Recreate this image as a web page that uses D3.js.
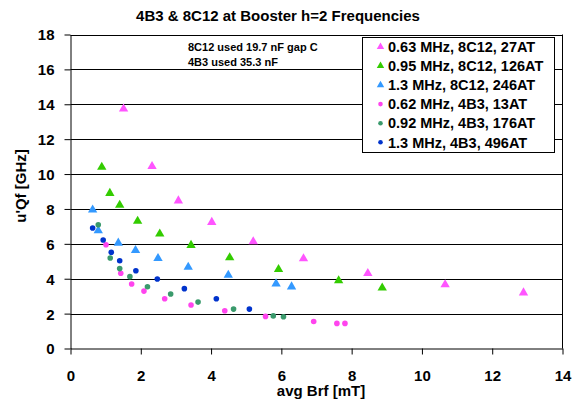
<!DOCTYPE html>
<html>
<head>
<meta charset="utf-8">
<script src="https://cdnjs.cloudflare.com/ajax/libs/d3/7.8.5/d3.min.js"></script>
<style>
  body { margin: 0; background: #fff; }
  svg { display: block; font-family: "Liberation Sans", Arial, sans-serif; }
</style>
</head>
<body>
<div id="chart"></div>
<script>
// 4B3 & 8C12 u'Qf vs avg Brf
const xTicks = [0, 2, 4, 6, 8, 10, 12, 14];
const yTicks = [0, 2, 4, 6, 8, 10, 12, 14, 16, 18];

const s063_8c12 = [[1.51, 13.74], [2.32, 10.44], [3.07, 8.47], [4.02, 7.24], [5.2, 6.13],
  [6.63, 5.15], [8.46, 4.31], [10.66, 3.66], [12.89, 3.2]];
const s095_8c12 = [[0.89, 10.4], [1.12, 8.9], [1.40, 8.22], [1.91, 7.3], [2.54, 6.57],
  [3.43, 5.92], [4.53, 5.21], [5.92, 4.54], [7.63, 3.89], [8.87, 3.48]];
const s13_8c12 = [[0.63, 7.95], [0.79, 6.76], [1.36, 6.05], [1.85, 5.63], [2.49, 5.17],
  [3.35, 4.67], [4.49, 4.21], [5.85, 3.71], [6.29, 3.54]];
const s062_4b3 = [[1.01, 5.95], [1.43, 4.31], [1.74, 3.70], [2.09, 3.29], [2.68, 2.85],
  [3.43, 2.49], [4.39, 2.16], [5.55, 1.84], [6.92, 1.55], [7.58, 1.44], [7.81, 1.44]];
const s092_4b3 = [[0.79, 7.09], [1.13, 5.19], [1.40, 4.58], [1.69, 4.12], [2.19, 3.54],
  [2.85, 3.12], [3.63, 2.66], [4.64, 2.26], [5.77, 1.87], [6.06, 1.82]];
const s13_4b3 = [[0.63, 6.91], [0.93, 6.22], [1.16, 5.52], [1.40, 5.03], [1.86, 4.46],
  [2.47, 3.98], [3.24, 3.43], [4.15, 2.85], [5.09, 2.26]];

const seriesNames = ['0.63 MHz, 8C12, 27AT', '0.95 MHz, 8C12, 126AT', '1.3 MHz, 8C12, 246AT',
  '0.62 MHz, 4B3, 13AT', '0.92 MHz, 4B3, 176AT', '1.3 MHz, 4B3, 496AT'];
const seriesData = [s063_8c12, s095_8c12, s13_8c12, s062_4b3, s092_4b3, s13_4b3];
const seriesColors = ['#ff55ff', '#33cc00', '#3399ff', '#ff44ee', '#3a9a6c', '#0033cc'];
const seriesShapes = ['triangle', 'triangle', 'triangle', 'circle', 'circle', 'circle'];

const notes = ['8C12 used 19.7 nF gap C', '4B3 used 35.3 nF'];

const width = 576, height = 408;
const plotLeft = 70.5, plotRight = 562.5, plotTop = 34.5, plotBottom = 348.5;

const svg = d3.select('#chart').append('svg')
  .attr('width', width)
  .attr('height', height);

const x = d3.scaleLinear().domain([0, 14]).range([plotLeft, plotRight]);
const y = d3.scaleLinear().domain([0, 18]).range([plotBottom, plotTop]);

// gridlines
svg.append('g')
  .selectAll('line')
  .data(yTicks.slice(1))
  .join('line')
  .attr('x1', plotLeft).attr('x2', plotRight)
  .attr('y1', d => Math.round(y(d)) + 0.5).attr('y2', d => Math.round(y(d)) + 0.5)
  .attr('stroke', '#000').attr('stroke-width', 1);

// right frame
svg.append('line')
  .attr('x1', plotRight).attr('x2', plotRight).attr('y1', plotTop).attr('y2', plotBottom)
  .attr('stroke', '#000');

// axes
const xAxis = svg.append('g')
  .attr('transform', `translate(0,${plotBottom})`)
  .call(d3.axisBottom(x).tickValues(xTicks).tickSize(6).tickPadding(15.5).tickSizeOuter(0));
const yAxis = svg.append('g')
  .attr('transform', `translate(${plotLeft},0)`)
  .call(d3.axisLeft(y).tickValues(yTicks).tickSize(6).tickPadding(10).tickSizeOuter(0));

[xAxis, yAxis].forEach(a => {
  a.select('.domain').attr('stroke', '#000');
  a.selectAll('.tick line').attr('stroke', '#000');
  a.selectAll('.tick text')
    .attr('fill', '#000')
    .style('font-size', '15px')
    .style('font-weight', 'bold')
    .style('font-family', '"Liberation Sans", Arial, sans-serif');
});
yAxis.selectAll('.tick text').attr('dy', '0.36em');

// marks
const triangle = d3.symbol().type(d3.symbolTriangle).size(38);
seriesData.forEach((data, i) => {
  const g = svg.append('g').attr('fill', seriesColors[i]);
  if (seriesShapes[i] === 'triangle') {
    g.selectAll('path').data(data).join('path')
      .attr('d', triangle)
      .attr('transform', d => `translate(${x(d[0])},${y(d[1])})`);
  } else {
    g.selectAll('circle').data(data).join('circle')
      .attr('cx', d => x(d[0])).attr('cy', d => y(d[1])).attr('r', 2.8);
  }
});

// annotation
svg.append('g')
  .selectAll('text')
  .data(notes)
  .join('text')
  .attr('x', 188)
  .attr('y', (d, i) => 51 + i * 14.8)
  .style('font-size', '11px')
  .style('font-weight', 'bold')
  .text(d => d);

// legend
const lg = svg.append('g');
lg.append('rect')
  .attr('x', 362.5).attr('y', 37.5).attr('width', 192).attr('height', 115)
  .attr('fill', '#fff').attr('stroke', '#000');
seriesNames.forEach((name, i) => {
  const cy = 46.8 + i * 19.1;
  if (seriesShapes[i] === 'triangle') {
    lg.append('path')
      .attr('d', d3.symbol().type(d3.symbolTriangle).size(24)())
      .attr('transform', `translate(380.5,${cy})`)
      .attr('fill', seriesColors[i]);
  } else {
    lg.append('circle').attr('cx', 380.5).attr('cy', cy).attr('r', 2.3)
      .attr('fill', seriesColors[i]);
  }
  lg.append('text')
    .attr('x', 388).attr('y', cy).attr('dy', '0.36em')
    .style('font-size', '14.5px').style('font-weight', 'bold')
    .text(name);
});

// title and axis labels
svg.append('text')
  .attr('x', 278).attr('y', 20.5)
  .attr('text-anchor', 'middle')
  .style('font-size', '15px').style('font-weight', 'bold')
  .text('4B3 & 8C12 at Booster h=2 Frequencies');

svg.append('text')
  .attr('x', 321).attr('y', 396)
  .attr('text-anchor', 'middle')
  .style('font-size', '15px').style('font-weight', 'bold')
  .text('avg Brf [mT]');

svg.append('text')
  .attr('transform', 'translate(26,186) rotate(-90)')
  .attr('text-anchor', 'middle')
  .style('font-size', '15px').style('font-weight', 'bold')
  .text("u'Qf [GHz]");
</script>
</body>
</html>
